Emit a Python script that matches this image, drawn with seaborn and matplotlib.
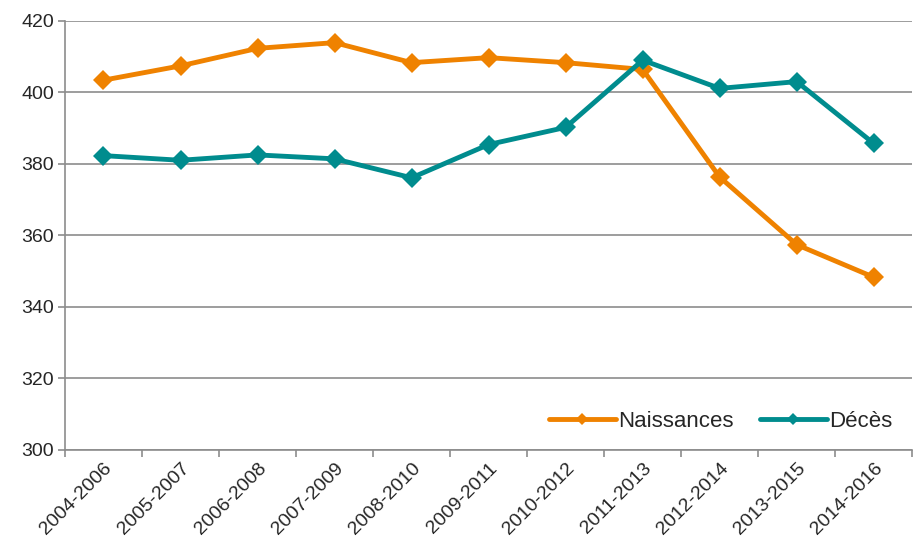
import pandas as pd
import seaborn as sns
import matplotlib.pyplot as plt
from matplotlib.ticker import FixedLocator

periods = ['2004-2006', '2005-2007', '2006-2008', '2007-2009', '2008-2010',
           '2009-2011', '2010-2012', '2011-2013', '2012-2014', '2013-2015',
           '2014-2016']
naissances = [403.4, 407.4, 412.3, 413.9, 408.3, 409.7, 408.3, 406.4, 376.3, 357.4, 348.3]
deces = [382.3, 381.0, 382.5, 381.4, 376.1, 385.4, 390.2, 409.0, 401.1, 403.0, 385.7]

df = pd.DataFrame({'Période': periods, 'Naissances': naissances, 'Décès': deces})

sns.set_style('white')
plt.rcParams['font.family'] = ['Liberation Sans', 'DejaVu Sans']

fig = plt.figure(figsize=(9.15, 5.48), dpi=100)
ax = fig.add_axes([0.071, 0.179, 0.926, 0.783])

sns.lineplot(data=df, x='Période', y='Naissances', ax=ax, color='#EF8200',
             linewidth=3.5, marker='D', markersize=10.5, markeredgewidth=0,
             sort=False, label='Naissances')
sns.lineplot(data=df, x='Période', y='Décès', ax=ax, color='#008C8E',
             linewidth=3.5, marker='D', markersize=10.5, markeredgewidth=0,
             sort=False, label='Décès')

ax.set_xlim(-0.5, len(periods) - 0.5)
ax.set_ylim(300, 420)
ax.set_yticks(range(300, 421, 20))
ax.yaxis.grid(True, color='#8c8c8c', linewidth=1.2)
ax.set_axisbelow(True)

ax.set_xticks(range(len(periods)))
ax.set_xticklabels(periods, rotation=45, ha='right', rotation_mode='anchor')
ax.xaxis.set_minor_locator(FixedLocator([i - 0.5 for i in range(len(periods) + 1)]))
ax.tick_params(axis='x', which='major', length=0, pad=7, labelsize=14)
ax.tick_params(axis='x', which='minor', length=5, width=1.2, color='#8c8c8c', direction='out')
ax.tick_params(axis='y', length=5, width=1.2, color='#8c8c8c', direction='out', labelsize=14, pad=3)
ax.xaxis.set_ticks_position('bottom')
ax.yaxis.set_ticks_position('left')

for s in ['top', 'right']:
    ax.spines[s].set_visible(False)
for s in ['left', 'bottom']:
    ax.spines[s].set_color('#8c8c8c')
    ax.spines[s].set_linewidth(1.2)

ax.set_xlabel('')
ax.set_ylabel('')

leg = ax.legend(loc='lower right', ncol=2, frameon=False, fontsize=16,
                bbox_to_anchor=(1.0, -0.005), handlelength=3, handletextpad=0.1,
                columnspacing=1.2, markerscale=0.6)

fig.savefig('out.png', dpi=100)
